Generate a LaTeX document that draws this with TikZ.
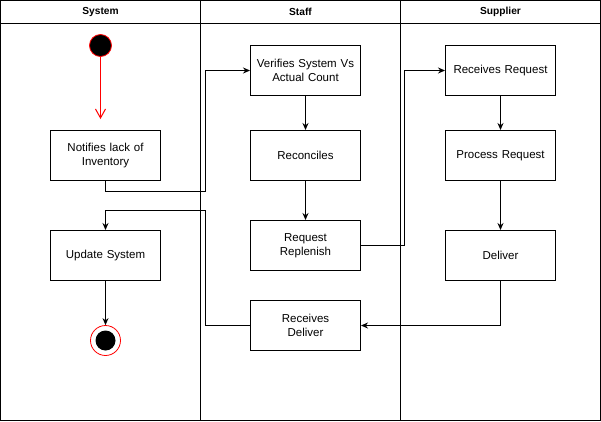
\documentclass[tikz,border=0pt]{standalone}
\usepackage{fontspec}
\setmainfont{Liberation Sans}
\usetikzlibrary{arrows.meta}

\begin{document}
\begin{tikzpicture}[x=1pt,y=-1pt,line width=1pt,
    lane/.style={font=\bfseries\fontsize{10.2}{12}\selectfont},
    act/.style={draw,minimum width=110pt,minimum height=50pt,inner sep=2pt,
      text width=104pt,align=center,font=\fontsize{11.5}{13.5}\selectfont},
    flow/.style={-{Stealth[length=7pt,width=6pt]}}]
  \useasboundingbox (-0.5,-0.5) rectangle (600.5,420.5);
  % swimlanes
  \draw (0,0) rectangle (600,420);
  \draw (0,23) -- (600,23) (200,0) -- (200,420) (400,0) -- (400,420);
  \draw
    (100,11.5) node[lane] (sys){System}
    (300,11.5) node[lane] (stf){Staff}
    (500,11.5) node[lane] (sup){Supplier};
  % start and end
  \node[circle,fill=black,draw=red,line width=0.8pt,minimum size=22pt,inner sep=0pt] (start) at (100,45) {};
  \node[circle,draw=red,line width=0.8pt,minimum size=30pt,inner sep=0pt,
    path picture={\fill (path picture bounding box.center) circle (10pt);}] (final) at (105,340) {};
  % activities
  \node[act] (notify) at (105,155) {Notifies lack of\\Inventory};
  \node[act] (update) at (105,255) {Update System};
  \node[act] (verify) at (305,70) {Verifies System Vs\\Actual Count};
  \node[act] (recon) at (305,155) {Reconciles};
  \node[act] (replen) at (305,245) {Request\\Replenish};
  \node[act] (recvdel) at (305,325) {Receives\\Deliver};
  \node[act] (recvreq) at (500,70) {Receives Request};
  \node[act] (process) at (500,155) {Process Request};
  \node[act] (deliver) at (500,255) {Deliver};
  % flows
  \draw[red,-{Straight Barb[length=9pt,width=10pt]},shorten >=11pt] (start) -- (start |- notify.north);
  \begin{scope}[flow]
    \draw (notify.south) -- ++(0,10) -- ++(100,0) |- (verify.west);
    \draw (verify) -- (recon);
    \draw (recon) -- (replen);
    \draw (replen.east) -- ++(43,0) |- (recvreq.west);
    \draw (recvreq) -- (process);
    \draw (process) -- (deliver);
    \draw (deliver.south) |- (recvdel.east);
    \draw (recvdel.west) -- ++(-45,0) -- ++(0,-115) -| (update.north);
    \draw (update) -- (final);
  \end{scope}
\end{tikzpicture}
\end{document}
